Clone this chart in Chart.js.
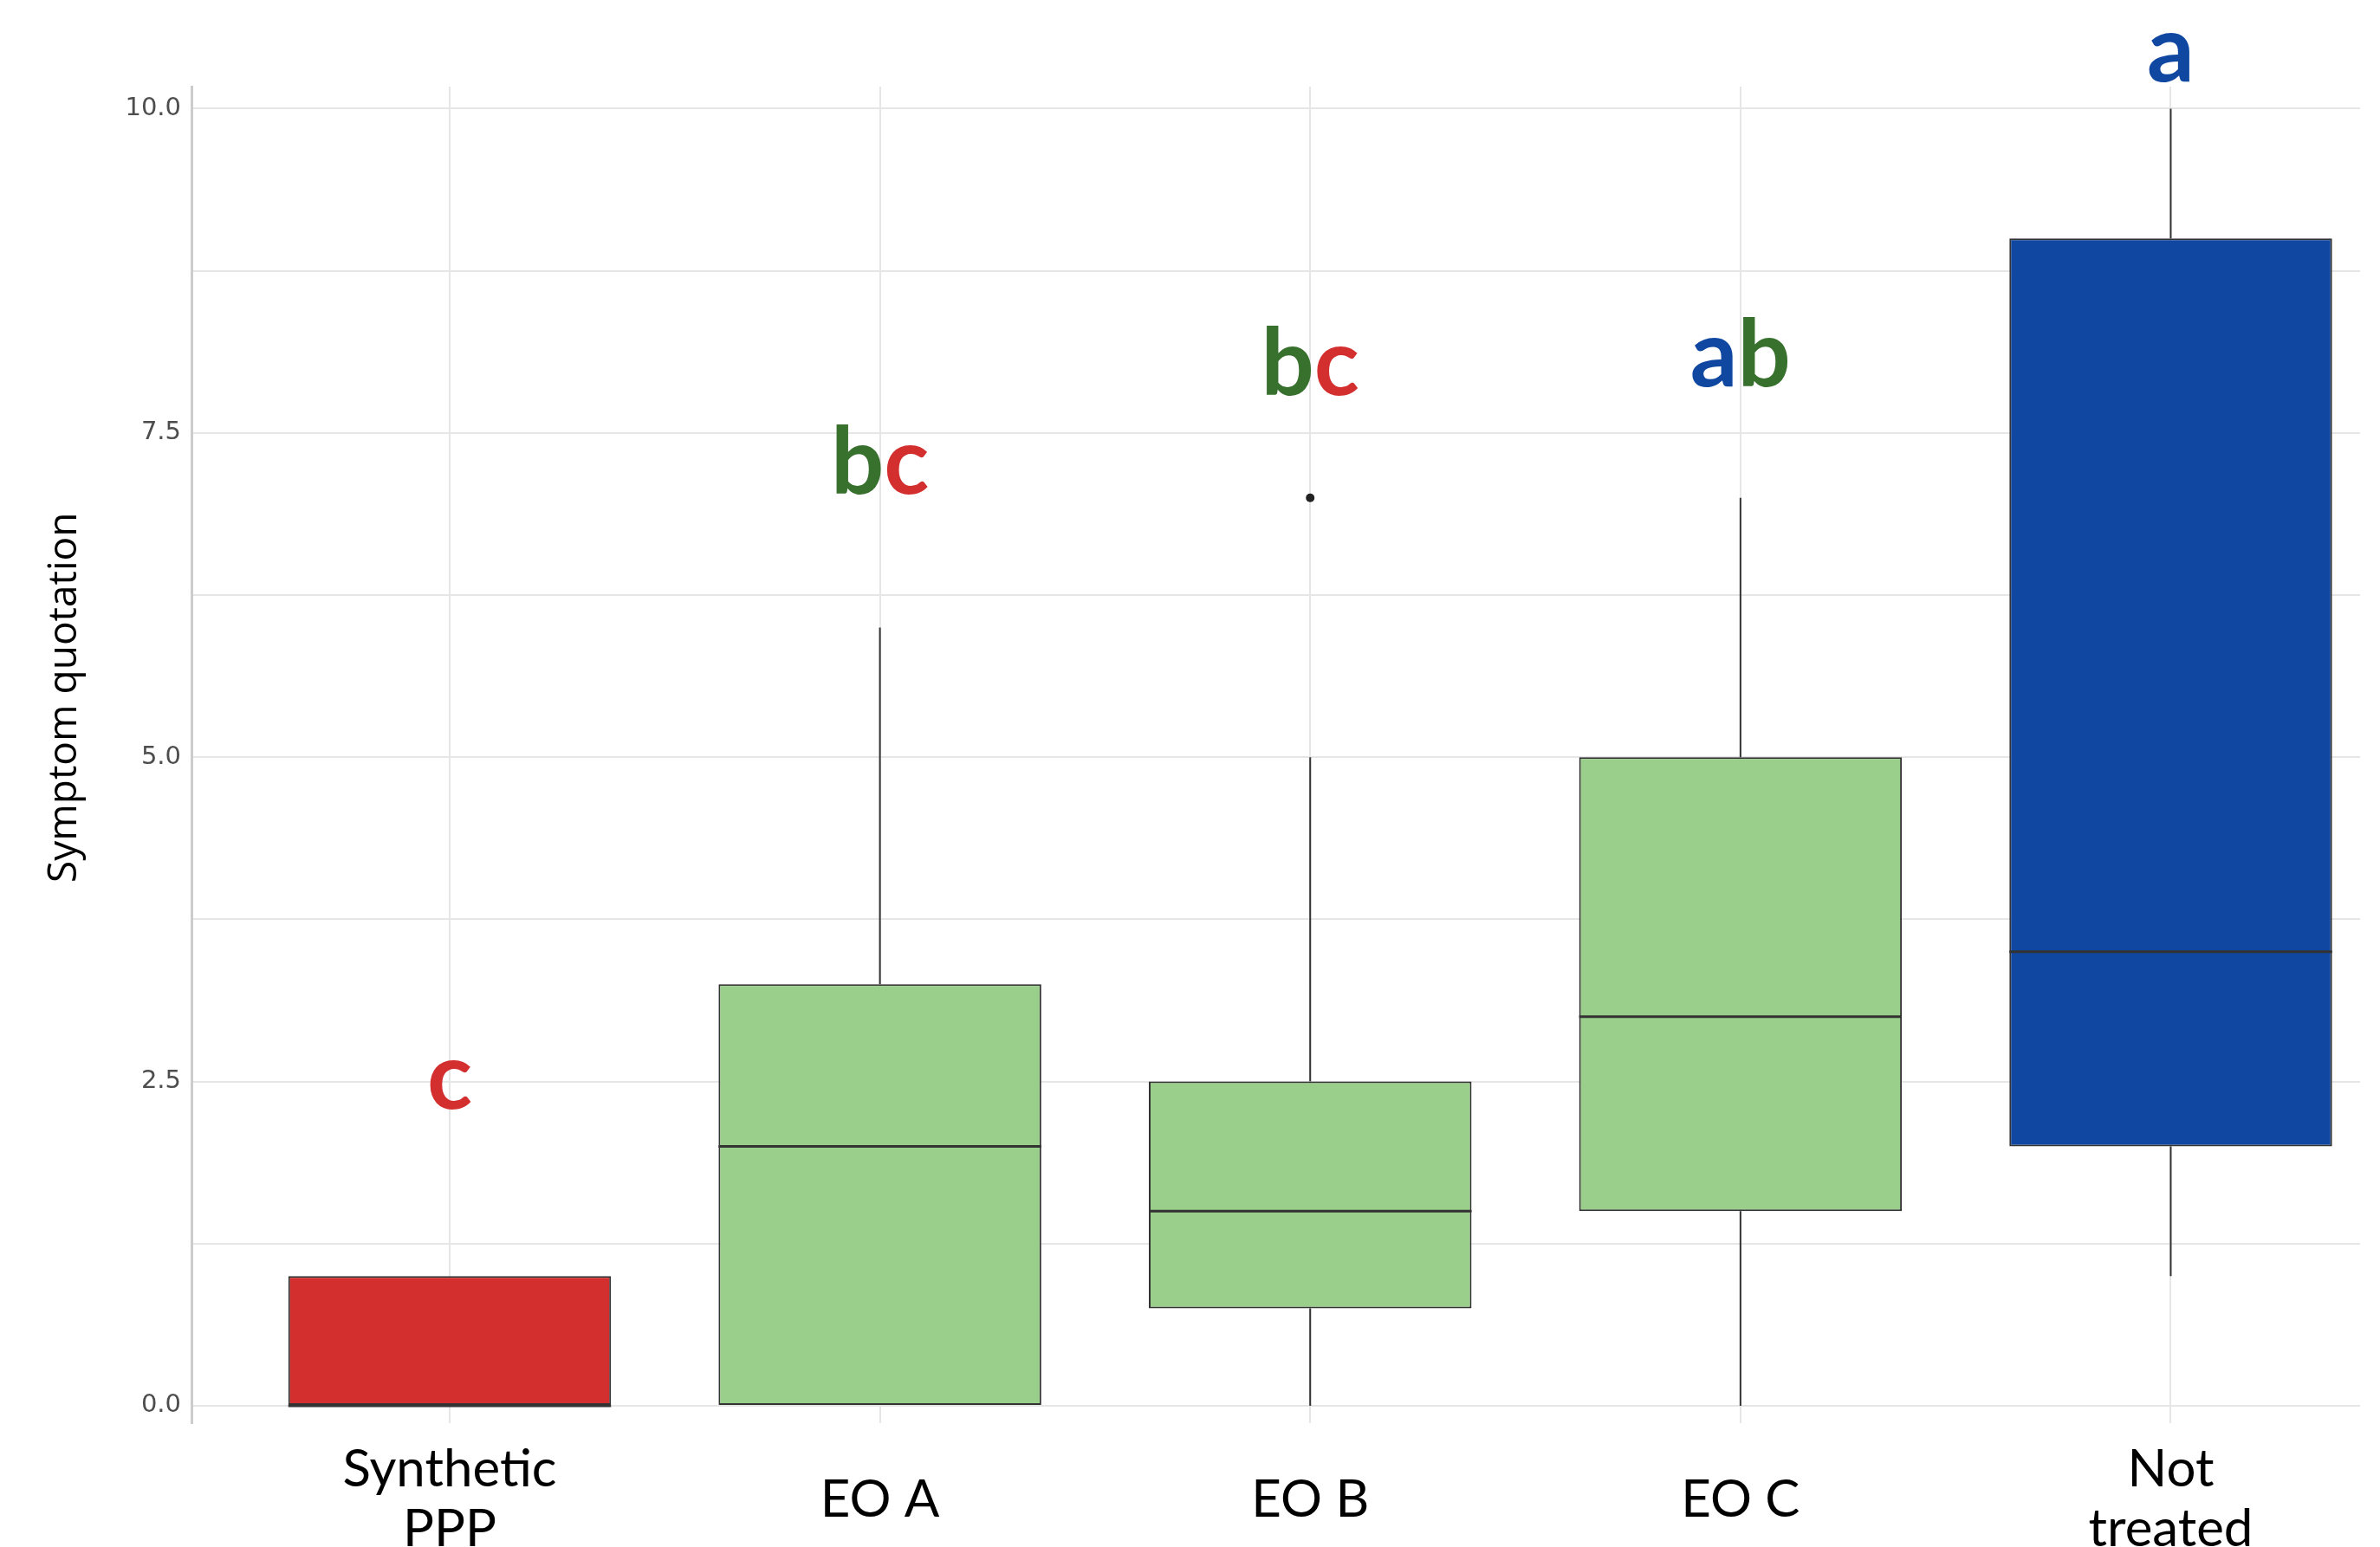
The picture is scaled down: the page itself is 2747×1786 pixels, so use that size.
<!DOCTYPE html>
<html>
<head>
<meta charset="utf-8">
<script src="https://cdn.jsdelivr.net/npm/chart.js@4.4.0/dist/chart.umd.min.js"></script>
<style>
  html, body { margin: 0; padding: 0; background: #fff; overflow: hidden; }
  canvas { display: block; }
</style>
</head>
<body>
<canvas id="chart" width="2747" height="1786"></canvas>
<script>
// Treatment groups (multi-line labels are arrays)
const categories = [['Synthetic', 'PPP'], 'EO A', 'EO B', 'EO C', ['Not', 'treated']];

// Box-plot statistics per group
const whiskerLow  = [0, 0, 0,    0,   1];
const q1          = [0, 0, 0.75, 1.5, 2];
const median      = [0, 2, 1.5,  3,   3.5];
const q3          = [1, 3.25, 2.5, 5, 9];
const whiskerHigh = [1, 6, 5,    7,   10];

// Outliers: group number (1-based) and value
const outlierGroup = [3];
const outlierValue = [7];

// Significance letters and the level they sit at
const groupLetters = ['c', 'bc', 'bc', 'ab', 'a'];
const letterLevel  = [2.29, 7.03, 7.79, 7.86, 10.21];

// Y grid positions (labels only on the major ones)
const yTickValues = [0, 1.25, 2.5, 3.75, 5, 6.25, 7.5, 8.75, 10];

// Axis title, centred at this level of the y scale
const yTitle = 'Symptom quotation';
const yTitleLevel = 5.46;

const boxFill = ['#D32F2F', '#99CF8A', '#99CF8A', '#99CF8A', '#0F47A1'];
const letterColor = { a: '#0F47A1', b: '#38702E', c: '#D32F2F' };
const boxWidth = 0.75;

const pos = categories.map((_, i) => i + 1);

// Median segments across each box
const medianPts = [];
median.forEach((m, i) => {
  medianPts.push({ x: pos[i] - boxWidth / 2, y: m }, { x: pos[i] + boxWidth / 2, y: m }, { x: pos[i], y: null });
});

// Whiskers: upper (q3 -> high) and lower (low -> q1)
const whiskerPts = [];
pos.forEach((p, i) => {
  whiskerPts.push(
    { x: p, y: q3[i] }, { x: p, y: whiskerHigh[i] }, { x: p, y: null },
    { x: p, y: whiskerLow[i] }, { x: p, y: q1[i] }, { x: p, y: null }
  );
});

// Coloured significance letters above each box, plus the y axis title
const annotationPlugin = {
  id: 'groupLetters',
  afterDraw(chart) {
    const { ctx, scales: { x, y } } = chart;
    ctx.save();
    ctx.font = 'bold 108px Lato';
    ctx.textBaseline = 'alphabetic';
    ctx.textAlign = 'left';
    groupLetters.forEach((txt, i) => {
      const chars = [...txt];
      const w = chars.reduce((s, c) => s + ctx.measureText(c).width, 0);
      let cx = x.getPixelForValue(pos[i]) - w / 2;
      const cy = y.getPixelForValue(letterLevel[i]);
      chars.forEach(c => {
        ctx.fillStyle = letterColor[c];
        ctx.fillText(c, cx, cy);
        cx += ctx.measureText(c).width;
      });
    });
    ctx.restore();

    ctx.save();
    ctx.translate(y.left + 75, y.getPixelForValue(yTitleLevel));
    ctx.rotate(-Math.PI / 2);
    ctx.font = '46px "Open Sans"';
    ctx.fillStyle = '#000';
    ctx.textAlign = 'center';
    ctx.textBaseline = 'middle';
    ctx.fillText(yTitle, 0, 0);
    ctx.restore();
  }
};

new Chart(document.getElementById('chart'), {
  type: 'bar',
  data: {
    datasets: [
      {
        type: 'line',
        label: 'outliers',
        data: outlierGroup.map((g, k) => ({ x: g, y: outlierValue[k] })),
        showLine: false,
        pointRadius: 5,
        pointBackgroundColor: '#222',
        pointBorderWidth: 0,
        order: 0
      },
      {
        type: 'line',
        label: 'median',
        data: medianPts,
        borderColor: '#333333',
        borderWidth: 3,
        pointRadius: 0,
        spanGaps: false,
        fill: false,
        order: 1
      },
      {
        type: 'line',
        label: 'whiskers',
        data: whiskerPts,
        borderColor: '#333333',
        borderWidth: 2,
        pointRadius: 0,
        spanGaps: false,
        fill: false,
        order: 3
      },
      {
        type: 'bar',
        label: 'box',
        data: pos.map((p, i) => ({ x: p, y: [q1[i], q3[i]] })),
        backgroundColor: boxFill,
        borderColor: '#333333',
        borderWidth: 2,
        borderSkipped: false,
        categoryPercentage: 1,
        barPercentage: boxWidth,
        order: 2
      }
    ]
  },
  options: {
    responsive: false,
    animation: false,
    events: [],
    layout: { padding: { top: 100, right: 23, left: 0, bottom: 0 } },
    plugins: { legend: { display: false }, tooltip: { enabled: false } },
    scales: {
      x: {
        type: 'linear',
        min: 0.4,
        max: 5.44,
        offset: false,
        afterBuildTicks: s => { s.ticks = pos.map(v => ({ value: v })); },
        afterFit: s => { s.height = 143; },
        grid: { color: '#e6e6e6', lineWidth: 2, drawTicks: false, offset: false },
        border: { display: false },
        ticks: {
          autoSkip: false,
          maxRotation: 0,
          crossAlign: 'center',
          padding: 54,
          color: '#000',
          font: { family: 'Lato', size: 60, lineHeight: 1.15 },
          callback: (v, i) => categories[i]
        }
      },
      y: {
        min: -0.134,
        max: 10.17,
        afterBuildTicks: s => { s.ticks = yTickValues.map(v => ({ value: v })); },
        afterFit: s => { s.width = 221; },
        grid: { color: '#e6e6e6', lineWidth: 2, drawTicks: false },
        border: { display: true, color: '#cccccc', width: 3 },
        ticks: {
          padding: 12,
          color: '#4d4d4d',
          font: { family: 'DejaVu Sans', size: 29 },
          callback: v => (v % 2.5 === 0 ? v.toFixed(1) : '')
        }
      }
    }
  },
  plugins: [annotationPlugin]
});
</script>
</body>
</html>
